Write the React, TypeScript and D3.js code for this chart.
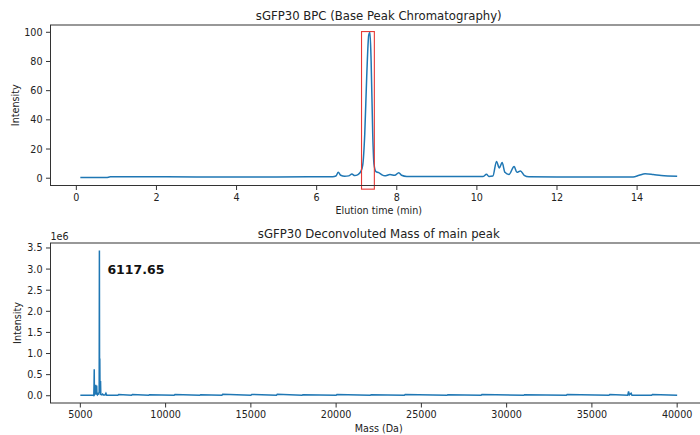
import React from "react";
import * as d3 from "d3";

// ---------- Data ----------
const bpcTime = [0.1, 0.75, 0.85, 1.5, 3, 5, 6.4, 6.48, 6.54, 6.6, 6.7, 6.8, 6.88, 6.95, 7.03, 7.1, 7.15, 7.2, 7.25, 7.3, 7.33, 7.36, 7.4, 7.43, 7.48, 7.55, 7.62, 7.7, 7.83, 7.95, 8.05, 8.12, 8.25, 9, 10.15, 10.24, 10.3, 10.4, 10.49, 10.56, 10.63, 10.7, 10.8, 10.93, 11.0, 11.09, 11.18, 11.3, 12, 13.9, 14.05, 14.2, 14.4, 14.6, 15];
const bpcIntensity = [0.4, 0.4, 1.0, 1.0, 0.9, 0.9, 1.0, 1.5, 4.0, 2.0, 1.3, 1.6, 2.8, 1.8, 2.5, 4.5, 9, 30, 70, 98, 100, 80, 30, 10, 4.5, 3.8, 2.5, 1.6, 2.5, 2.0, 3.8, 2.0, 1.2, 1.1, 1.1, 2.7, 1.2, 1.5, 11.5, 7, 10.7, 4, 2.5, 8, 4, 5, 2, 1.0, 0.9, 0.9, 2.0, 3.0, 2.5, 1.8, 1.3];

const massDa = [5000, 5790, 5805, 5815, 5825, 5860, 5880, 5900, 5915, 5940, 5960, 5975, 6000, 6040, 6080, 6105, 6117.65, 6128, 6135, 6142, 6155, 6175, 6185, 6200, 6260, 6300, 6350, 6450, 6500, 6550, 7200, 7250, 8000, 8050, 9000, 9050, 10500, 10550, 12000, 12050, 13300, 13350, 15000, 15050, 16500, 16550, 18000, 18050, 20000, 20050, 22000, 22050, 24000, 24050, 26500, 26550, 28500, 28550, 31000, 31050, 33500, 33550, 36000, 36050, 37100, 37150, 37200, 37300, 37350, 38500, 38550, 40000];
const massIntensity = [0.01, 0.01, 0.3, 0.63, 0.02, 0.04, 0.12, 0.26, 0.03, 0.2, 0.24, 0.03, 0.02, 0.05, 0.04, 0.1, 3.44, 0.2, 0.6, 0.88, 0.06, 0.2, 0.35, 0.03, 0.02, 0.04, 0.02, 0.02, 0.06, 0.01, 0.01, 0.03, 0.01, 0.03, 0.01, 0.025, 0.01, 0.03, 0.01, 0.025, 0.01, 0.035, 0.01, 0.03, 0.01, 0.035, 0.01, 0.025, 0.01, 0.03, 0.01, 0.025, 0.01, 0.03, 0.01, 0.025, 0.01, 0.03, 0.01, 0.025, 0.01, 0.03, 0.01, 0.03, 0.01, 0.1, 0.02, 0.06, 0.01, 0.01, 0.03, 0.01];

const bpcXTicks = [0, 2, 4, 6, 8, 10, 12, 14];
const bpcYTicks = [0, 20, 40, 60, 80, 100];
const massXTicks = [5000, 10000, 15000, 20000, 25000, 30000, 35000, 40000];
const massYTicks = [0, 0.5, 1.0, 1.5, 2.0, 2.5, 3.0, 3.5];

const highlight = { x0: 7.12, x1: 7.44, y0: -7.5, y1: 100.5 };
const peakLabel = "6117.65";

// ---------- Layout ----------
const W = 700, H = 435;
const LEFT = 50.5, RIGHT = 707;
const TOP1 = 25, BOT1 = 185.5;
const TOP2 = 243, BOT2 = 403;
const BLUE = "#1f77b4";
const FONT = "DejaVu Sans, sans-serif";
const TICK_FS = 9.6;

export default function App() {
  const x1 = d3.scaleLinear().domain([-0.645, 15.745]).range([LEFT, RIGHT]);
  const y1 = d3.scaleLinear().domain([-5, 105]).range([BOT1, TOP1]);
  const x2 = d3.scaleLinear().domain([3250, 41750]).range([LEFT, RIGHT]);
  const y2 = d3.scaleLinear().domain([-0.172, 3.618]).range([BOT2, TOP2]);

  const bpcPts: [number, number][] = bpcTime.map((t, i) => [t, bpcIntensity[i]]);
  const massPts: [number, number][] = massDa.map((m, i) => [m, massIntensity[i]]);

  const line1 = d3.line<[number, number]>().x(d => x1(d[0])).y(d => y1(d[1])).curve(d3.curveMonotoneX);
  const line2 = d3.line<[number, number]>().x(d => x2(d[0])).y(d => y2(d[1]));

  const frame = (top: number, bot: number) => (
    <rect x={LEFT} y={top} width={RIGHT - LEFT} height={bot - top} fill="none" stroke="#333" strokeWidth={1} />
  );

  return (
    <svg width={W} height={H} style={{ position: "absolute", left: 0, top: 0, background: "#fff" }} fontFamily={FONT}>
      <rect x={0} y={0} width={W} height={H} fill="#fff" />
      {/* ---- Top panel ---- */}
      <text x={(LEFT + RIGHT) / 2} y={20} textAnchor="middle" fontSize={11.7} fill="#222">sGFP30 BPC (Base Peak Chromatography)</text>
      <path d={line1(bpcPts) || ""} fill="none" stroke={BLUE} strokeWidth={1.5} />
      <rect x={x1(highlight.x0)} y={y1(highlight.y1)} width={x1(highlight.x1) - x1(highlight.x0)} height={y1(highlight.y0) - y1(highlight.y1)} fill="none" stroke="#e53935" strokeWidth={1.1} />
      {frame(TOP1, BOT1)}
      {bpcXTicks.map(t => (
        <g key={"bx" + t}>
          <line x1={x1(t)} x2={x1(t)} y1={BOT1} y2={BOT1 + 4.5} stroke="#333" />
          <text x={x1(t)} y={BOT1 + 15} textAnchor="middle" fontSize={TICK_FS} fill="#222">{t}</text>
        </g>
      ))}
      {bpcYTicks.map(t => (
        <g key={"by" + t}>
          <line x1={LEFT - 4.5} x2={LEFT} y1={y1(t)} y2={y1(t)} stroke="#333" />
          <text x={LEFT - 8} y={y1(t) + 3.5} textAnchor="end" fontSize={TICK_FS} fill="#222">{t}</text>
        </g>
      ))}
      <text x={(LEFT + RIGHT) / 2} y={214} textAnchor="middle" fontSize={TICK_FS} fill="#222">Elution time (min)</text>
      <text transform={`translate(18.5, ${(TOP1 + BOT1) / 2}) rotate(-90)`} textAnchor="middle" fontSize={TICK_FS} fill="#222">Intensity</text>

      {/* ---- Bottom panel ---- */}
      <text x={(LEFT + RIGHT) / 2} y={238} textAnchor="middle" fontSize={11.7} fill="#222">sGFP30 Deconvoluted Mass of main peak</text>
      <path d={line2(massPts) || ""} fill="none" stroke={BLUE} strokeWidth={1.5} />
      <text x={x2(6117.65) + 8} y={y2(3.0) + 5} fontSize={12.5} fontWeight="bold" fill="#111">{peakLabel}</text>
      {frame(TOP2, BOT2)}
      {massXTicks.map(t => (
        <g key={"mx" + t}>
          <line x1={x2(t)} x2={x2(t)} y1={BOT2} y2={BOT2 + 4.5} stroke="#333" />
          <text x={x2(t)} y={BOT2 + 15} textAnchor="middle" fontSize={TICK_FS} fill="#222">{t}</text>
        </g>
      ))}
      {massYTicks.map(t => (
        <g key={"my" + t}>
          <line x1={LEFT - 4.5} x2={LEFT} y1={y2(t)} y2={y2(t)} stroke="#333" />
          <text x={LEFT - 8} y={y2(t) + 3.5} textAnchor="end" fontSize={TICK_FS} fill="#222">{d3.format(".1f")(t)}</text>
        </g>
      ))}
      <text x={LEFT} y={240} fontSize={TICK_FS} fill="#222">1e6</text>
      <text x={(LEFT + RIGHT) / 2} y={432} textAnchor="middle" fontSize={TICK_FS} fill="#222">Mass (Da)</text>
      <text transform={`translate(21, ${(TOP2 + BOT2) / 2}) rotate(-90)`} textAnchor="middle" fontSize={TICK_FS} fill="#222">Intensity</text>
    </svg>
  );
}
